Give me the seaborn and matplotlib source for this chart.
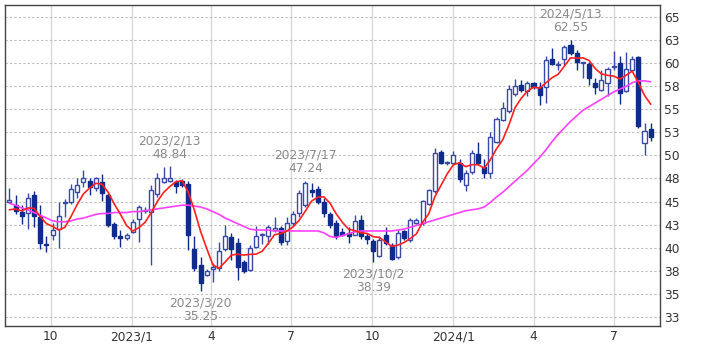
import pandas as pd
import numpy as np
import seaborn as sns
import matplotlib.pyplot as plt

# weekly candles (Mondays)
week_start = "2022-08-15"
n_weeks = 105

open_ = [45.0, 44.6, 43.9, 43.7, 45.7, 43.3, 40.4, 41.4, 42.0, 44.8,
         45.0, 46.0, 47.1, 47.2, 46.5, 47.1, 45.7, 42.6, 41.3, 41.0,
         41.7, 43.1, 44.0, 43.9, 45.8, 47.1, 47.2, 47.1, 47.2, 46.9,
         39.8, 38.1, 37.0, 37.7, 37.8, 39.8, 41.1, 40.5, 38.4, 37.6,
         40.1, 41.4, 41.2, 41.9, 42.1, 40.7, 42.7, 43.7, 44.6, 46.2,
         46.4, 45.0, 43.6, 42.7, 41.7, 41.6, 41.4, 43.0, 41.2, 40.7,
         39.1, 41.4, 40.3, 39.0, 41.8, 40.8, 42.7, 42.7, 44.7, 46.1,
         50.4, 49.2, 49.2, 49.2, 46.8, 48.2, 50.2, 48.8, 48.1, 51.5,
         53.8, 54.8, 56.7, 57.7, 57.0, 57.9, 57.4, 57.4, 60.5, 59.8,
         60.5, 62.0, 61.1, 60.0, 59.9, 57.9, 57.1, 57.9, 59.6, 60.0,
         57.0, 59.3, 60.7, 51.3, 52.9]
high = [46.5, 45.7, 44.6, 45.9, 46.1, 44.6, 41.2, 42.7, 45.0, 45.3,
        46.9, 47.5, 48.4, 47.5, 47.7, 48.0, 45.9, 42.8, 41.9, 41.6,
        43.1, 44.6, 44.4, 46.8, 48.1, 48.7, 48.84, 47.3, 47.4, 47.2,
        41.3, 39.0, 37.7, 38.3, 40.6, 42.4, 41.6, 41.0, 38.6, 40.3,
        42.3, 41.6, 42.5, 43.3, 42.3, 43.3, 44.0, 46.2, 47.24, 47.0,
        46.7, 45.4, 43.9, 43.0, 42.1, 42.2, 43.5, 43.5, 41.6, 40.9,
        41.3, 42.2, 40.5, 41.9, 41.9, 43.2, 43.2, 45.2, 46.4, 50.8,
        50.6, 49.4, 50.5, 49.6, 48.4, 50.6, 51.5, 49.6, 52.5, 54.2,
        55.8, 57.7, 58.3, 58.2, 58.1, 58.0, 58.0, 60.8, 61.7, 60.3,
        62.0, 62.55, 61.5, 60.2, 60.2, 58.4, 59.3, 59.6, 61.3, 60.8,
        61.2, 60.8, 60.8, 53.5, 53.5]
low = [44.8, 43.6, 42.6, 42.0, 42.2, 39.8, 39.5, 40.8, 39.9, 43.3,
       44.7, 45.4, 46.6, 45.7, 46.1, 45.1, 42.2, 40.9, 40.1, 40.8,
       41.6, 40.6, 43.7, 38.1, 45.5, 47.0, 47.1, 45.9, 46.6, 39.7,
       37.4, 35.25, 36.9, 36.3, 37.4, 39.6, 38.7, 36.5, 37.2, 37.5,
       39.9, 40.4, 40.4, 41.7, 40.3, 40.3, 42.3, 43.3, 44.4, 45.5,
       44.7, 43.3, 42.1, 40.9, 41.2, 40.5, 41.4, 40.9, 40.4, 38.39,
       39.0, 40.3, 38.7, 38.8, 40.8, 40.6, 42.6, 42.5, 44.6, 45.9,
       49.1, 49.0, 49.0, 47.1, 46.1, 48.0, 49.0, 47.6, 47.6, 51.3,
       53.7, 54.6, 56.5, 56.9, 56.5, 57.2, 55.5, 55.7, 59.8, 59.3,
       59.8, 60.9, 59.3, 58.4, 57.6, 56.7, 57.0, 56.5, 59.3, 55.6,
       56.9, 59.1, 53.0, 50.1, 51.6]
close = [45.1, 44.0, 43.4, 45.4, 43.4, 40.5, 40.3, 41.9, 43.4, 44.9,
         46.4, 46.8, 47.6, 46.6, 47.5, 45.9, 42.5, 41.2, 41.0, 41.4,
         42.8, 44.4, 44.1, 46.2, 47.6, 47.6, 47.6, 46.7, 46.8, 41.4,
         37.8, 36.1, 37.4, 37.9, 39.6, 41.2, 39.8, 37.9, 37.4, 40.0,
         41.3, 41.4, 42.2, 42.1, 40.6, 42.7, 43.6, 45.9, 47.0, 46.0,
         44.9, 43.7, 42.5, 41.2, 41.4, 41.2, 42.9, 41.3, 40.9, 39.6,
         40.8, 40.5, 38.8, 41.6, 41.0, 43.0, 43.0, 45.1, 46.2, 50.3,
         49.2, 49.2, 50.0, 47.4, 48.1, 50.3, 49.2, 48.1, 52.0, 54.0,
         55.2, 57.2, 57.5, 57.1, 57.9, 57.4, 56.6, 60.4, 59.9, 59.8,
         61.8, 61.1, 60.2, 60.1, 58.4, 57.4, 58.2, 59.4, 59.7, 56.8,
         59.4, 60.5, 53.2, 52.7, 52.0]

# closes of the 4 weeks before the window (for the 5-week average)
prior_close = [43.5, 44.5, 43.8, 43.6]

# 26-week average line as drawn
ma26 = [44.8, 44.6, 44.3, 44.1, 43.8, 43.5, 43.2, 42.9, 42.8, 42.8,
        42.9, 43.1, 43.2, 43.4, 43.6, 43.7, 43.7, 43.8, 43.8, 43.8,
        43.9, 43.9, 44.0, 44.1, 44.2, 44.3, 44.4, 44.5, 44.6, 44.6,
        44.5, 44.4, 44.2, 43.9, 43.6, 43.2, 42.9, 42.6, 42.3, 42.0,
        41.9, 41.9, 41.9, 41.8, 41.8, 41.8, 41.8, 41.8, 41.8, 41.8,
        41.8, 41.6, 41.2, 41.1, 41.3, 41.5, 41.7, 41.8, 41.8, 41.8,
        41.8, 41.8, 41.8, 41.9, 42.0, 42.2, 42.4, 42.6, 42.8, 43.0,
        43.2, 43.4, 43.6, 43.8, 44.0, 44.1, 44.2, 44.4, 44.9, 45.5,
        46.0, 46.6, 47.2, 47.8, 48.4, 49.1, 49.8, 50.6, 51.5, 52.3,
        53.0, 53.7, 54.3, 54.9, 55.3, 55.7, 56.1, 56.5, 56.9, 57.2,
        57.5, 57.9, 58.1, 58.1, 58.0]

notes = [("2023-02-13", 48.84, "high"), ("2023-03-20", 35.25, "low"),
         ("2023-07-17", 47.24, "high"), ("2023-10-02", 38.39, "low"),
         ("2024-05-13", 62.55, "high")]

xtick_dates = ["2022-10-01", "2023-01-01", "2023-04-01", "2023-07-01",
               "2023-10-01", "2024-01-01", "2024-04-01", "2024-07-01"]
xtick_labels = ["10", "2023/1", "4", "7", "10", "2024/1", "4", "7"]
ytick_vals = [32.5, 35, 37.5, 40, 42.5, 45, 47.5, 50, 52.5, 55, 57.5, 60, 62.5, 65]
ytick_labels = ["33", "35", "38", "40", "43", "45", "48", "50", "53", "55", "58", "60", "63", "65"]

df = pd.DataFrame({"date": pd.date_range(week_start, periods=n_weeks, freq="W-MON"),
                   "open": open_, "high": high, "low": low, "close": close,
                   "ma26": ma26})
full = pd.Series(prior_close + close)
df["ma5"] = full.rolling(5).mean().iloc[len(prior_close):].values

sns.set_style("white")
plt.rcParams["font.family"] = ["DejaVu Sans"]

fig = plt.figure(figsize=(7.09, 3.54), dpi=100)
ax = fig.add_axes([5 / 709, 1 - 326 / 354, 655 / 709, 321 / 354])

for d in xtick_dates:
    ax.axvline(pd.Timestamp(d), color="#d9d9d9", lw=1, zorder=0)
for v in ytick_vals:
    ax.axhline(v, color="#bdbdbd", lw=0.8, ls=(0, (2, 2)), zorder=0)

navy = "#0f2b8c"
edge_up = "#3949a6"
up = df["close"] >= df["open"]
ax.vlines(df["date"], df["low"], df["high"], color=np.where(up, edge_up, navy), lw=1, zorder=2)
body_lo = np.minimum(df["open"], df["close"])
body_h = (df["close"] - df["open"]).abs().clip(lower=0.12)
ax.bar(df["date"][up], body_h[up], bottom=body_lo[up], width=4.6,
       color="white", edgecolor=edge_up, lw=1, zorder=3)
ax.bar(df["date"][~up], body_h[~up], bottom=body_lo[~up], width=4.6,
       color=navy, edgecolor=navy, lw=1, zorder=3)

sns.lineplot(data=df, x="date", y="ma26", color="#ff40ff", lw=1.2, ax=ax, zorder=4)
sns.lineplot(data=df, x="date", y="ma5", color="#ff2020", lw=1.2, ax=ax, zorder=5)

for d, v, kind in notes:
    t = pd.Timestamp(d)
    label = f"{t.year}/{t.month}/{t.day}\n{v:.2f}"
    if kind == "high":
        ax.annotate(label, (t, v), xytext=(0, 4), textcoords="offset points",
                    ha="center", va="bottom", fontsize=8.8, color="#8a8a8a", linespacing=1.05, zorder=6)
    else:
        ax.annotate(label, (t, v), xytext=(0, -4), textcoords="offset points",
                    ha="center", va="top", fontsize=8.8, color="#8a8a8a", linespacing=1.05, zorder=6)

ax.set_xlim(pd.Timestamp("2022-08-10"), pd.Timestamp("2024-08-22 14:00"))
ax.set_ylim(31.48, 66.34)
ax.set_xticks([pd.Timestamp(d) for d in xtick_dates])
ax.set_xticklabels(xtick_labels)
ax.yaxis.tick_right()
ax.set_yticks(ytick_vals)
ax.set_yticklabels(ytick_labels)
ax.tick_params(axis="both", length=0, labelsize=8.8, colors="#333333", pad=3)
ax.set_xlabel("")
ax.set_ylabel("")
for s in ax.spines.values():
    s.set_color("#444444")
    s.set_linewidth(1)

fig.savefig("out.png", dpi=100)
